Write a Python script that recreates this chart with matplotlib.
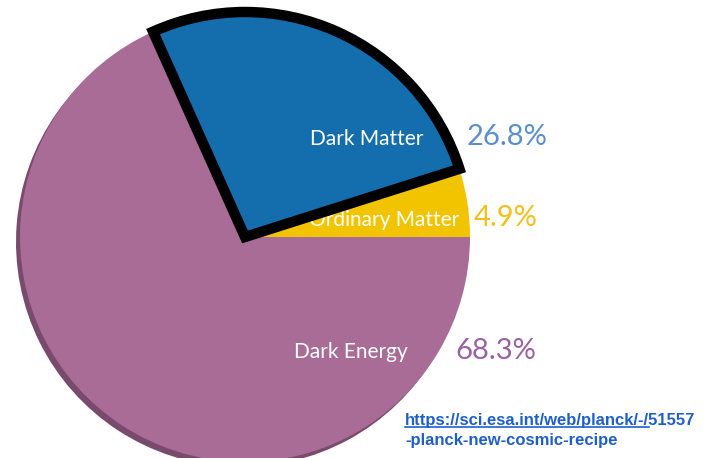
import matplotlib.pyplot as plt

# composition of the universe (Planck)
labels = ["Ordinary Matter", "Dark Matter", "Dark Energy"]
shares = [4.9, 26.8, 68.3]
pct_text = ["4.9%", "26.8%", "68.3%"]

fill = ["#f2c400", "#146eae", "#a86c96"]
shade = ["#8a7400", "#0c4470", "#7a4a6c"]
pct_col = ["#f5bf1a", "#5a8ed0", "#9a62a2"]

W, H = 709, 458
fig = plt.figure(figsize=(W / 100, H / 100), dpi=100)
ax = fig.add_axes([0, 0, 1, 1])

cx, cy, r = 245, H - 237, 225

# dark rim under the pie
ax.pie(shares, colors=shade, startangle=0, counterclock=True,
       center=(cx - 4, cy - 5), radius=r, frame=True,
       wedgeprops=dict(linewidth=0, zorder=1))
wedges, _ = ax.pie(shares, colors=fill, startangle=0, counterclock=True,
                   center=(cx, cy), radius=r, frame=True,
                   wedgeprops=dict(linewidth=0, zorder=2))
dm = wedges[1]
dm.set_edgecolor("black")
dm.set_linewidth(7.5)
dm.set_joinstyle("miter")
dm.set_zorder(3)

ax.set_xlim(0, W)
ax.set_ylim(0, H)
ax.set_aspect("equal")
ax.axis("off")

font = "Lato"
# slice names (white) and percentages; the small slice's name sits under the outline
name_pos = [(384, 220), (367, 139), (351, 352)]
name_z = [2.5, 5, 5]
pct_pos = [(474, 218), (467, 137), (455, 351)]
for i in range(3):
    nx, ny = name_pos[i]
    ax.text(nx, H - ny, labels[i], color="white", fontsize=15, family=font,
            ha="center", va="center", zorder=name_z[i])
    px, py = pct_pos[i]
    ax.text(px, H - py, pct_text[i], color=pct_col[i], fontsize=21,
            family=font, ha="left", va="center", zorder=5)

# source link, first part underlined
link_col = "#1f5fcc"
lk = dict(color=link_col, fontsize=12, family="Liberation Sans",
          weight="bold", ha="left", va="center", zorder=5)
t1 = ax.text(405, H - 420, "https://sci.esa.int/web/planck/-/51557", **lk)
probe = ax.text(405, H - 420, "https://sci.esa.int/web/planck/-/", alpha=0, **lk)
fig.canvas.draw()
bb = probe.get_window_extent()
base = t1.get_window_extent().y0
ax.plot([bb.x0, bb.x1], [base + 1, base + 1], color=link_col, lw=1.2, zorder=5)
ax.text(405, H - 441, "-planck-new-cosmic-recipe", **lk)

fig.savefig("out.png", dpi=100)
